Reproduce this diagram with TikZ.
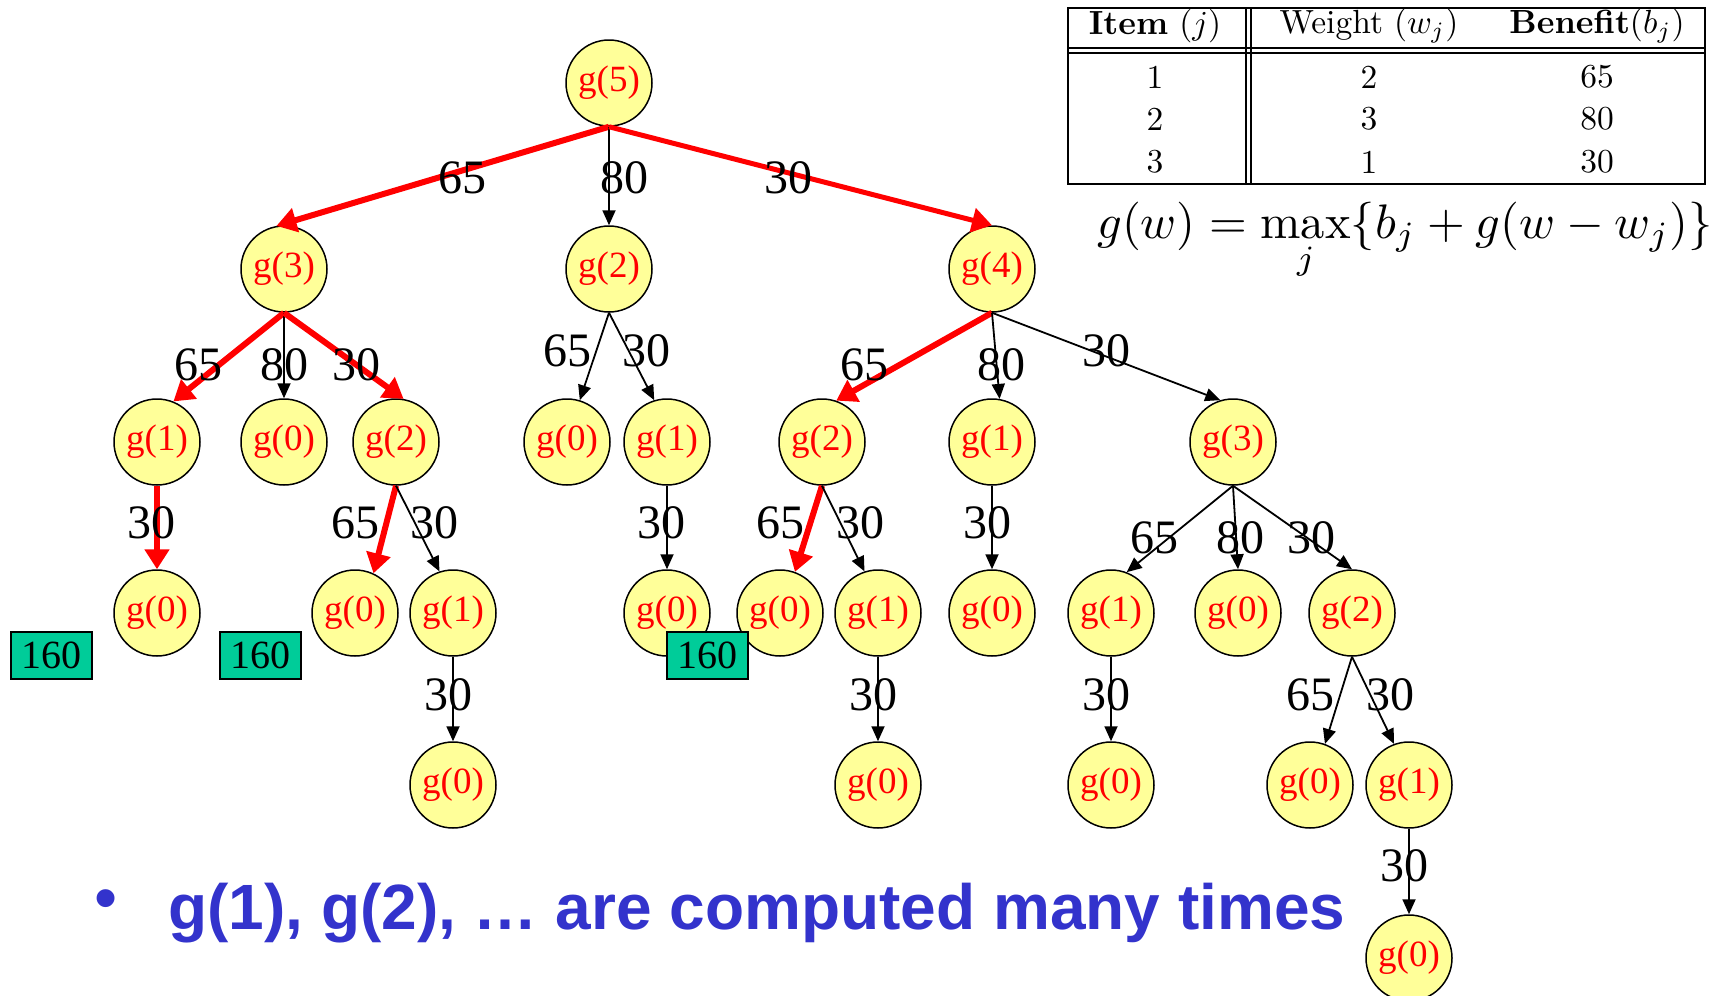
\RequirePackage{fix-cm}
\documentclass[tikz,border=0pt]{standalone}
\usepackage{graphicx}
\usepackage{fontspec}
\newfontfamily\timesf{Liberation Serif}
\newfontfamily\arialf{Liberation Sans}
\usetikzlibrary{arrows.meta,calc}
\definecolor{nodeyellow}{HTML}{FFFF99}
\definecolor{boxgreen}{HTML}{00CC99}
\definecolor{txtblue}{HTML}{3333CC}
\newcommand{\tabtxt}[1]{\scalebox{3.35}{#1}}
\tikzset{
  gn/.style={circle, draw=black, line width=1.5pt, fill=nodeyellow, minimum size=86pt, inner sep=0pt, text=red, font=\timesf\fontsize{37}{40}\selectfont},
  ed/.style={-{Triangle[length=15pt,width=13pt]}, line width=1.8pt, draw=black},
  redge/.style={-{Triangle[length=20pt,width=24pt]}, line width=6pt, draw=red},
  lbl/.style={font=\timesf\fontsize{48}{50}\selectfont, inner sep=0pt},
  vbox/.style={draw=black, line width=2pt, fill=boxgreen, font=\timesf\fontsize{40}{44}\selectfont, minimum width=81pt, minimum height=47pt, inner sep=0pt},
  tline/.style={line width=1.8pt, draw=black},
  ttext/.style={font=\fontsize{10}{12}\selectfont, inner sep=0pt}
}
\begin{document}
\begin{tikzpicture}[x=1pt,y=-1pt]
\useasboundingbox (0,0) rectangle (1717,996);
% nodes
\node[gn] (n5) at (609,83) {g(5)};
\node[gn] (a3) at (284,269) {g(3)};
\node[gn] (a2) at (609,269) {g(2)};
\node[gn] (a4) at (992,269) {g(4)};
\node[gn] (b1) at (157,442) {g(1)};
\node[gn] (b0) at (284,442) {g(0)};
\node[gn] (b2) at (396,442) {g(2)};
\node[gn] (b0m) at (567,442) {g(0)};
\node[gn] (b1m) at (667,442) {g(1)};
\node[gn] (b2r) at (822,442) {g(2)};
\node[gn] (b1r) at (992,442) {g(1)};
\node[gn] (b3r) at (1233,442) {g(3)};
\node[gn] (c0a) at (157,613) {g(0)};
\node[gn] (c0b) at (355,613) {g(0)};
\node[gn] (c1b) at (453,613) {g(1)};
\node[gn] (c0c) at (667,613) {g(0)};
\node[gn] (c0d) at (780,613) {g(0)};
\node[gn] (c1d) at (878,613) {g(1)};
\node[gn] (c0e) at (992,613) {g(0)};
\node[gn] (c1f) at (1111,613) {g(1)};
\node[gn] (c0f) at (1238,613) {g(0)};
\node[gn] (c2f) at (1352,613) {g(2)};
\node[gn] (d0b) at (453,785) {g(0)};
\node[gn] (d0d) at (878,785) {g(0)};
\node[gn] (d0f) at (1111,785) {g(0)};
\node[gn] (d0g) at (1310,785) {g(0)};
\node[gn] (d1g) at (1409,785) {g(1)};
\node[gn] (e0) at (1409,958) {g(0)};
% edges
\draw[redge] (n5.south) -- (a3.100);
\draw[ed] (n5.south) -- (a2.north);
\draw[redge, line width=5pt] (n5.south) -- (a4.north);
\draw[redge] (a3.south) -- (b1.68);
\draw[ed] (a3.south) -- (b0.north);
\draw[redge] (a3.south) -- (b2.80);
\draw[ed] (a2.south) -- (b0m.73);
\draw[ed] (a2.south) -- (b1m.107);
\draw[redge] (a4.south) -- (b2r.71);
\draw[ed] (a4.south) -- (b1r.80);
\draw[ed] (a4.south) -- (b3r.107);
\draw[redge] (b1.south) -- (c0a.north);
\draw[redge] (b2.south) -- (c0b.65);
\draw[ed] (b2.south) -- (c1b.108);
\draw[ed] (b1m.south) -- (c0c.north);
\draw[redge] (b2r.south) -- (c0d.70);
\draw[ed] (b2r.south) -- (c1d.108);
\draw[ed] (b1r.south) -- (c0e.north);
\draw[ed] (b3r.south) -- (c1f.69);
\draw[ed] (b3r.south) -- (c0f.north);
\draw[ed] (b3r.south) -- (c2f.north);
\draw[ed] (c1b.south) -- (d0b.north);
\draw[ed] (c1d.south) -- (d0d.north);
\draw[ed] (c1f.south) -- (d0f.north);
\draw[ed] (c2f.south) -- (d0g.70);
\draw[ed] (c2f.south) -- (d1g.110);
\draw[ed] (d1g.south) -- (e0.north);
% edge labels
\node[lbl] (l1) at (462,178) {65};
\node[lbl] (l2) at (624,178) {80};
\node[lbl] (l3) at (788,178) {30};
\node[lbl] (l4) at (198,365) {65};
\node[lbl] (l5) at (284,365) {80};
\node[lbl] (l6) at (356,365) {30};
\node[lbl] (l7) at (567,351) {65};
\node[lbl] (l8) at (646,351) {30};
\node[lbl] (l9) at (864,365) {65};
\node[lbl] (l10) at (1001,365) {80};
\node[lbl] (l11) at (1106,351) {30};
\node[lbl] (l12) at (151,523) {30};
\node[lbl] (l13) at (355,523) {65};
\node[lbl] (l14) at (434,523) {30};
\node[lbl] (l15) at (661,523) {30};
\node[lbl] (l16) at (780,523) {65};
\node[lbl] (l17) at (860,523) {30};
\node[lbl] (l18) at (987,523) {30};
\node[lbl] (l19) at (1154,538) {65};
\node[lbl] (l20) at (1240,538) {80};
\node[lbl] (l21) at (1311,538) {30};
\node[lbl] (l22) at (448,695) {30};
\node[lbl] (l23) at (873,695) {30};
\node[lbl] (l24) at (1106,695) {30};
\node[lbl] (l25) at (1310,695) {65};
\node[lbl] (l26) at (1390,695) {30};
\node[lbl] (l27) at (1404,866) {30};
% value boxes
\node[vbox] (v1) at (51.5,655.5) {160};
\node[vbox] (v2) at (260,655.5) {160};
\node[vbox] (v3) at (707.5,655.5) {160};
% table
\draw[tline] (1068,8) rectangle (1705,184);
\draw[tline] (1246,8) -- (1246,184);
\draw[tline] (1251,8) -- (1251,184);
\draw[tline] (1068,48) -- (1705,48);
\draw[tline] (1068,53) -- (1705,53);
\node[ttext] (h1) at (1155,26) {\tabtxt{\textbf{Item} $(j)$}};
\node[ttext] (h2) at (1369,26) {\tabtxt{Weight $(w_j)$}};
\node[ttext] (h3) at (1597,26) {\tabtxt{\textbf{Benefit}$(b_j)$}};
\node[ttext] (r11) at (1155,77) {\tabtxt{1}};
\node[ttext] (r12) at (1369,77) {\tabtxt{2}};
\node[ttext] (r13) at (1597,77) {\tabtxt{65}};
\node[ttext] (r21) at (1155,119) {\tabtxt{2}};
\node[ttext] (r22) at (1369,119) {\tabtxt{3}};
\node[ttext] (r23) at (1597,119) {\tabtxt{80}};
\node[ttext] (r31) at (1155,162) {\tabtxt{3}};
\node[ttext] (r32) at (1369,162) {\tabtxt{1}};
\node[ttext] (r33) at (1597,162) {\tabtxt{30}};
% formula
\node[anchor=base west, inner sep=0pt, font=\fontsize{10}{12}\selectfont] (fm) at (1097,238) {\scalebox{4.85}{$g(w)=\displaystyle\max_j\{b_j+g(w-w_j)\}$}};
% bottom text
\node[inner sep=0pt, text=txtblue, font=\arialf\fontsize{66}{70}\selectfont] (bul) at (106,905) {•};
\node[anchor=base west, inner sep=0pt, text=txtblue, font=\arialf\bfseries\fontsize{64}{70}\selectfont] (bt) at (168,929) {g(1), g(2), … are computed many times};
\end{tikzpicture}
\end{document}
